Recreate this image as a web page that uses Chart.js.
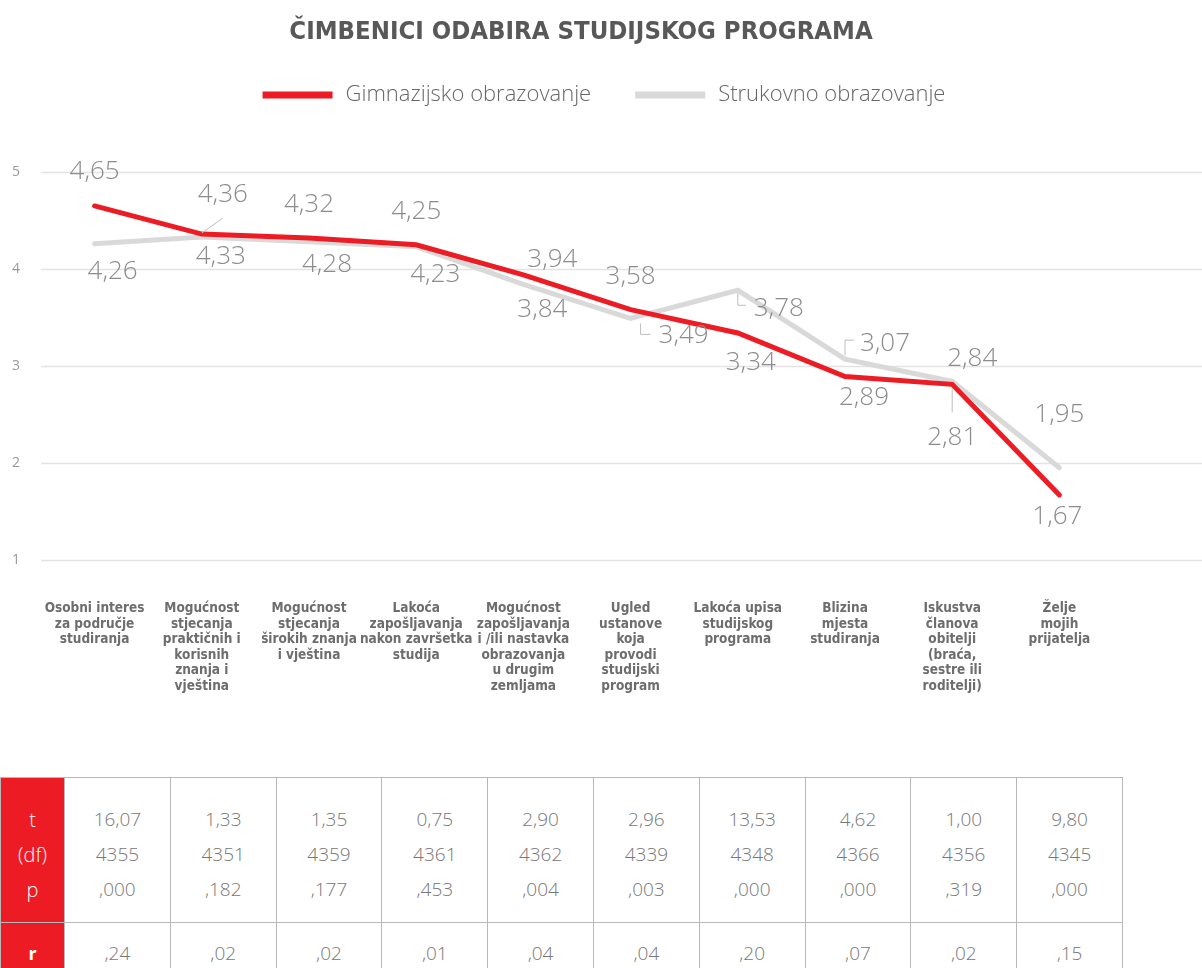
<!DOCTYPE html>
<html lang="hr">
<head>
<meta charset="utf-8">
<title>Čimbenici odabira studijskog programa</title>
<script src="https://cdn.jsdelivr.net/npm/chart.js@4.4.1/dist/chart.umd.min.js"></script>
<style>
  html, body { margin: 0; padding: 0; background: #fff; }
  #page { position: relative; width: 1202px; height: 968px; overflow: hidden; }
  #chartBox { position: absolute; left: 0; top: 0; width: 1202px; height: 770px; }
  #stats {
    position: absolute; left: 0; top: 777px;
    width: 1122px; table-layout: fixed; border-collapse: collapse;
    font-family: 'Open Sans', sans-serif; font-weight: 300;
  }
  #stats td, #stats th { border: 1px solid #b8b8b8; text-align: center; padding: 0; }
  #stats td { color: #777; font-size: 19px; }
  #stats th { background: #ed1c24; color: #fff; font-weight: 300; font-size: 20px; }
  #stats th.bold { font-weight: 700; font-size: 18px; }
  #rowT td, #rowT th { height: 136px; line-height: 35px; padding-top: 8px; }
  #rowR td, #rowR th { height: 60px; line-height: 30px; }
</style>
</head>
<body>
<div id="page">
  <div id="chartBox"><canvas id="factorsChart" width="1202" height="770"></canvas></div>
  <table id="stats">
    <colgroup><col style="width:64px"></colgroup>
    <tbody>
      <tr id="rowT"><th>t<br>(df)<br>p</th></tr>
      <tr id="rowR"><th class="bold">r</th></tr>
    </tbody>
  </table>
</div>

<script>
// ── Data ───────────────────────────────────────────────
const chartTitle = 'ČIMBENICI ODABIRA STUDIJSKOG PROGRAMA';

const categories = [
  ['Osobni interes', 'za područje', 'studiranja'],
  ['Mogućnost', 'stjecanja', 'praktičnih i', 'korisnih', 'znanja i', 'vještina'],
  ['Mogućnost', 'stjecanja', 'širokih znanja', 'i vještina'],
  ['Lakoća', 'zapošljavanja', 'nakon završetka', 'studija'],
  ['Mogućnost', 'zapošljavanja', 'i /ili nastavka', 'obrazovanja', 'u drugim', 'zemljama'],
  ['Ugled', 'ustanove', 'koja', 'provodi', 'studijski', 'program'],
  ['Lakoća upisa', 'studijskog', 'programa'],
  ['Blizina', 'mjesta', 'studiranja'],
  ['Iskustva', 'članova', 'obitelji', '(braća,', 'sestre ili', 'roditelji)'],
  ['Želje', 'mojih', 'prijatelja'],
];

const gimnazijsko = [4.65, 4.36, 4.32, 4.25, 3.94, 3.58, 3.34, 2.89, 2.81, 1.67];
const strukovno   = [4.26, 4.33, 4.28, 4.23, 3.84, 3.49, 3.78, 3.07, 2.84, 1.95];

const yTicks = [1, 2, 3, 4, 5];

const tValues  = ['16,07', '1,33', '1,35', '0,75', '2,90', '2,96', '13,53', '4,62', '1,00', '9,80'];
const dfValues = ['4355', '4351', '4359', '4361', '4362', '4339', '4348', '4366', '4356', '4345'];
const pValues  = [',000', ',182', ',177', ',453', ',004', ',003', ',000', ',000', ',319', ',000'];
const rValues  = [',24', ',02', ',02', ',01', ',04', ',04', ',20', ',07', ',02', ',15'];

const RED  = '#ed1c24';
const GREY = '#d9d9d9';

// ── Table under the chart ──────────────────────────────
const rowT = document.getElementById('rowT');
const rowR = document.getElementById('rowR');
const colgroup = document.querySelector('#stats colgroup');
tValues.forEach((t, i) => {
  const col = document.createElement('col');
  col.style.width = '105.8px';
  colgroup.appendChild(col);

  const td = document.createElement('td');
  td.innerHTML = `${t}<br>${dfValues[i]}<br>${pValues[i]}`;
  rowT.appendChild(td);

  const tdr = document.createElement('td');
  tdr.textContent = rValues[i];
  rowR.appendChild(tdr);
});

// ── Plugins ────────────────────────────────────────────
// horizontal grid lines that run on to the right edge of the canvas
const wideGrid = {
  id: 'wideGrid',
  beforeDatasetsDraw(chart, args, opts) {
    const { ctx, chartArea, scales } = chart;
    ctx.save();
    ctx.strokeStyle = opts.color;
    ctx.lineWidth = opts.width;
    yTicks.forEach(v => {
      const y = Math.round(scales.y.getPixelForValue(v)) + 0.5;
      ctx.beginPath();
      ctx.moveTo(chartArea.left, y);
      ctx.lineTo(chart.width, y);
      ctx.stroke();
    });
    ctx.restore();
  }
};

// title + legend with long line swatches, both centred by hand
const header = {
  id: 'header',
  afterDraw(chart, args, opts) {
    const ctx = chart.ctx;
    ctx.save();
    ctx.textBaseline = 'middle';

    ctx.font = opts.titleFont;
    ctx.fillStyle = opts.titleColor;
    ctx.textAlign = 'center';
    ctx.fillText(opts.text, opts.titleX, opts.titleY);

    const items = chart.data.datasets;
    ctx.font = opts.legendFont;
    ctx.textAlign = 'left';
    const widths = items.map(ds => opts.swatch + opts.gap + ctx.measureText(ds.label).width);
    const total = widths.reduce((a, b) => a + b, 0) + opts.spacing * (items.length - 1);
    let x = opts.legendX - total / 2;
    items.forEach((ds, i) => {
      ctx.fillStyle = ds.borderColor;
      ctx.fillRect(x, opts.legendY - opts.thickness / 2, opts.swatch, opts.thickness);
      ctx.fillStyle = opts.legendColor;
      ctx.fillText(ds.label, x + opts.swatch + opts.gap, opts.legendY);
      x += widths[i] + opts.spacing;
    });
    ctx.restore();
  }
};

// value labels with the few leader lines of the original
const valueLabels = {
  id: 'valueLabels',
  afterDatasetsDraw(chart, args, opts) {
    const ctx = chart.ctx;
    ctx.save();
    ctx.font = opts.font;
    ctx.textAlign = 'center';
    ctx.textBaseline = 'middle';
    chart.data.datasets.forEach((ds, di) => {
      const meta = chart.getDatasetMeta(di);
      meta.data.forEach((pt, i) => {
        const lead = opts.leaders[di][i];
        if (lead) {
          ctx.strokeStyle = opts.leaderColor;
          ctx.lineWidth = 1;
          ctx.beginPath();
          lead.forEach(([lx, ly], k) => {
            if (k === 0) ctx.moveTo(pt.x + lx, pt.y + ly);
            else ctx.lineTo(pt.x + lx, pt.y + ly);
          });
          ctx.stroke();
        }
        const [dx, dy] = opts.offsets[di][i];
        ctx.fillStyle = opts.color;
        ctx.fillText(ds.data[i].toFixed(2).replace('.', ','), pt.x + dx, pt.y + dy);
      });
    });
    ctx.restore();
  }
};

// ── Chart ──────────────────────────────────────────────
new Chart(document.getElementById('factorsChart').getContext('2d'), {
  type: 'line',
  data: {
    labels: categories,
    datasets: [
      {
        label: 'Gimnazijsko obrazovanje',
        data: gimnazijsko,
        borderColor: RED,
        backgroundColor: RED,
        borderWidth: 5,
        pointRadius: 0,
        tension: 0,
        borderCapStyle: 'round',
      },
      {
        label: 'Strukovno obrazovanje',
        data: strukovno,
        borderColor: GREY,
        backgroundColor: GREY,
        borderWidth: 5,
        pointRadius: 0,
        tension: 0,
        borderCapStyle: 'round',
      },
    ],
  },
  options: {
    responsive: false,
    animation: false,
    layout: { padding: { left: 0, right: 89, top: 172, bottom: 43 } },
    plugins: {
      legend: { display: false },
      title: { display: false },
      tooltip: { enabled: false },
      header: {
        text: chartTitle,
        titleFont: "bold 25.5px 'DejaVu Sans Condensed', 'DejaVu Sans', sans-serif",
        titleColor: '#585858',
        titleX: 581,
        titleY: 32,
        legendFont: "300 22px 'Open Sans', sans-serif",
        legendColor: '#666',
        swatch: 70,
        thickness: 7,
        gap: 13,
        spacing: 44,
        legendX: 604,
        legendY: 95,
      },
      wideGrid: { color: '#e3e3e3', width: 1.5 },
      valueLabels: {
        font: "300 26px 'Open Sans', sans-serif",
        color: '#8c8c8c',
        leaderColor: '#bdbdbd',
        offsets: [
          [[0, -34], [21, -39], [0, -33], [0, -33], [29, -15], [0, -33], [13, 30], [19, 21], [0, 53], [-2, 22]],
          [[18, 28], [19, 20], [18, 23], [19, 28], [19, 25], [53, 17], [41, 18], [40, -16], [20, -23], [0, -53]],
        ],
        leaders: [
          [null, [[0, -1], [21, -16]], null, null, null, null, null, null, [[0, 4], [0, 28]], null],
          [null, null, null, null, null, [[10, 5], [10, 16], [20, 16]], [[0, 3], [0, 15], [8, 15]], [[0, -4], [0, -19], [9, -19]], null, null],
        ],
      },
    },
    scales: {
      x: {
        type: 'category',
        offset: true,
        grid: { display: false },
        border: { display: false },
        ticks: {
          autoSkip: false,
          maxRotation: 0,
          padding: 33,
          color: '#6d6d6d',
          font: { family: "'DejaVu Sans Condensed', 'DejaVu Sans', sans-serif", weight: 'bold', size: 13.5, lineHeight: 1.15 },
        },
      },
      y: {
        min: 1,
        max: 5,
        grid: { display: false },
        border: { display: false },
        afterFit(scale) { scale.width = 41; },
        ticks: {
          stepSize: 1,
          padding: 13,
          color: '#999',
          font: { family: "'Open Sans', sans-serif", size: 14 },
        },
      },
    },
  },
  plugins: [wideGrid, valueLabels, header],
});
</script>
</body>
</html>
